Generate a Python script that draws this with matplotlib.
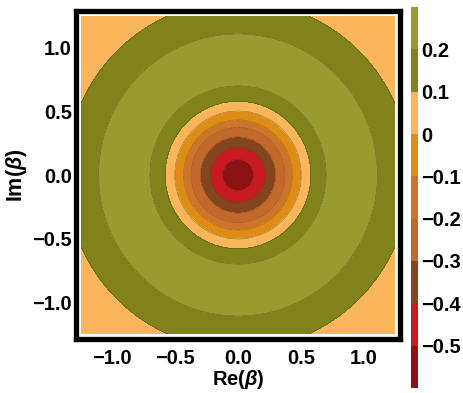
import numpy as np
import matplotlib
matplotlib.use("Agg")
import matplotlib.pyplot as plt

plt.rcParams['font.family'] = ['Liberation Sans', 'DejaVu Sans']
plt.rcParams['font.weight'] = 'bold'
plt.rcParams['mathtext.fontset'] = 'custom'
plt.rcParams['mathtext.it'] = 'Liberation Sans:bold:italic'
plt.rcParams['mathtext.rm'] = 'Liberation Sans:bold'
plt.rcParams['mathtext.bf'] = 'Liberation Sans:bold'

# Contour levels (value bands) and their colours, low -> high
levels = [-0.6, -0.5, -0.4, -0.3, -0.2, -0.1, 0.0, 0.1, 0.2, 0.3]
band_colors = ['#8c1214', '#c81a1f', '#83461c', '#c4692b', '#cc742b',
               '#df8c16', '#fbb55b', '#82821b', '#989c2e']

profile_r = [0.0, 0.124, 0.22, 0.30, 0.374, 0.433, 0.503, 0.58, 0.70, 0.90, 1.11, 1.37, 1.90]
profile_v = [-0.56, -0.5, -0.4, -0.3, -0.2, -0.1, 0.0, 0.1, 0.2, 0.25, 0.2, 0.1, 0.0]

cbar_ticks = [-0.5, -0.4, -0.3, -0.2, -0.1, 0.0, 0.1, 0.2]
cbar_ticklabels = ['\u22120.5', '\u22120.4', '\u22120.3', '\u22120.2', '\u22120.1', '0', '0.1', '0.2']
axis_ticks = [-1.0, -0.5, 0.0, 0.5, 1.0]
axis_ticklabels = ['\u22121.0', '\u22120.5', '0.0', '0.5', '1.0']

W, H = 463, 393
fig = plt.figure(figsize=(W / 100, H / 100), dpi=100)
ax = fig.add_axes([76 / W, 54 / H, 324 / W, 328 / H])

x = np.linspace(-1.25, 1.25, 600)
X, Y = np.meshgrid(x, x)
R = np.hypot(X, Y)
F = np.interp(R, profile_r, profile_v)

cs = ax.contourf(X, Y, F, levels=levels, colors=band_colors)
ax.contour(X, Y, F, levels=levels[1:-1], colors='#3a3a1a', linewidths=0.35, alpha=0.6)

ax.set_xlim(-1.29, 1.29)
ax.set_ylim(-1.29, 1.29)
for s in ax.spines.values():
    s.set_linewidth(3.8)
    s.set_color('black')

fs = 14.5
ax.set_xticks(axis_ticks)
ax.set_xticklabels(axis_ticklabels)
ax.set_yticks(axis_ticks)
ax.set_yticklabels(axis_ticklabels)
ax.tick_params(axis='both', length=0, labelsize=fs)
ax.tick_params(axis='x', pad=7)
ax.tick_params(axis='y', pad=3)
for lab in ax.get_xticklabels() + ax.get_yticklabels():
    lab.set_fontweight('bold')

ax.set_xlabel(r'Re($\beta$)', fontsize=14.5, fontweight='bold', labelpad=0)
ax.set_ylabel(r'Im($\beta$)', fontsize=15.5, fontweight='bold', labelpad=2)

cax = fig.add_axes([411 / W, 5 / H, 7 / W, 381 / H])
cb = fig.colorbar(cs, cax=cax)
cb.outline.set_visible(False)
cb.set_ticks(cbar_ticks)
cb.set_ticklabels(cbar_ticklabels)
cb.ax.tick_params(length=0, labelsize=fs, pad=2)
for lab in cb.ax.get_yticklabels():
    lab.set_fontweight('bold')

fig.savefig('out.png', dpi=100)
